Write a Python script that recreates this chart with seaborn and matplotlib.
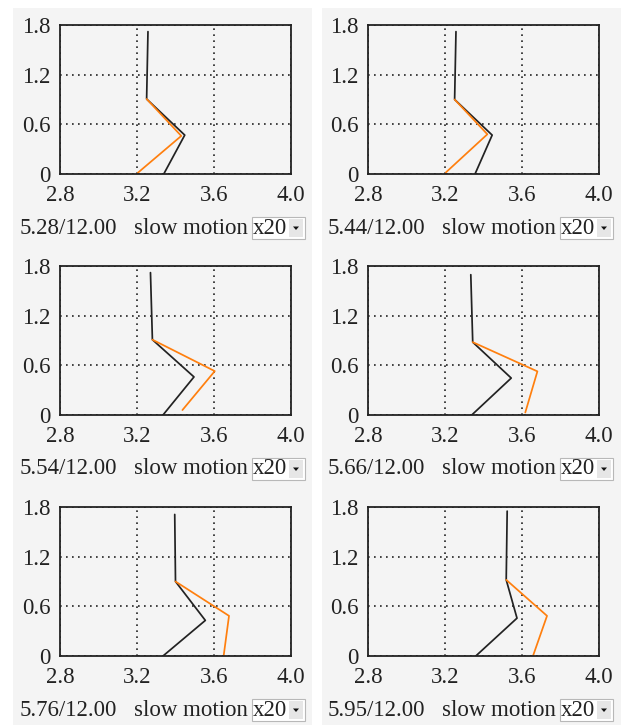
import pandas as pd
import matplotlib
matplotlib.use("Agg")
import matplotlib.pyplot as plt
from matplotlib.patches import Rectangle, Polygon
import seaborn as sns

# time stamps shown under each panel
times = ["5.28", "5.44", "5.54", "5.66", "5.76", "5.95"]
total_time = "12.00"
speed_label = "slow motion"
speed_choice = "x20"

# black figure: torso top, hip, knee, foot
black_x = [
    [3.257, 3.250, 3.448, 3.339],
    [3.257, 3.250, 3.445, 3.356],
    [3.270, 3.280, 3.496, 3.335],
    [3.334, 3.344, 3.544, 3.339],
    [3.396, 3.400, 3.555, 3.335],
    [3.523, 3.518, 3.574, 3.360],
]
black_y = [
    [1.72, 0.906, 0.470, 0.0],
    [1.72, 0.900, 0.470, 0.0],
    [1.72, 0.910, 0.460, 0.0],
    [1.695, 0.880, 0.446, 0.0],
    [1.71, 0.900, 0.430, 0.0],
    [1.75, 0.920, 0.457, 0.0],
]
# orange leg: hip, knee, foot
orange_x = [
    [3.250, 3.430, 3.205],
    [3.250, 3.420, 3.205],
    [3.280, 3.604, 3.436],
    [3.344, 3.680, 3.617],
    [3.400, 3.678, 3.650],
    [3.518, 3.730, 3.657],
]
orange_y = [
    [0.906, 0.460, 0.016],
    [0.900, 0.480, 0.020],
    [0.910, 0.530, 0.060],
    [0.880, 0.527, 0.030],
    [0.900, 0.485, 0.000],
    [0.920, 0.485, 0.000],
]

x_ticks = [2.8, 3.2, 3.6, 4.0]
x_tick_labels = ["2.8", "3.2", "3.6", "4.0"]
y_ticks = [0, 0.6, 1.2, 1.8]
y_tick_labels = ["0", "0.6", "1.2", "1.8"]

W, H = 629, 726
GREY = "#f4f4f4"
FS = 16.5

sns.set_theme(style="white")
plt.rcParams['font.family'] = ['Liberation Serif', 'DejaVu Serif']

fig = plt.figure(figsize=(W / 100, H / 100), dpi=100, facecolor="white")


def px_rect(x0, y0, x1, y1, **kw):
    """Rectangle in figure pixel coords (top-left origin)."""
    r = Rectangle((x0 / W, 1 - y1 / H), (x1 - x0) / W, (y1 - y0) / H,
                  transform=fig.transFigure, **kw)
    fig.patches.append(r)
    return r


# grey panel backgrounds, one per column (drawn under the axes)
for c in range(2):
    px_rect(13 + 309 * c, 8, 312 + 309 * c, 725, facecolor=GREY, edgecolor="none", zorder=-1)

for i in range(6):
    r, c = divmod(i, 2)
    left = 60 + 308 * c
    top = 25 + 241 * r
    ax = fig.add_axes([left / W, 1 - (top + 149) / H, 231 / W, 149 / H])
    ax.set_facecolor(GREY)

    sns.lineplot(x=black_x[i], y=black_y[i], sort=False, color="#222222",
                 linewidth=1.25, ax=ax)
    sns.lineplot(x=orange_x[i], y=orange_y[i], sort=False, color="#ff7f0e",
                 linewidth=1.25, ax=ax)

    ax.set_xlim(2.8, 4.0)
    ax.set_ylim(0, 1.8)
    ax.set_xticks(x_ticks)
    ax.set_xticklabels(x_tick_labels)
    ax.set_yticks(y_ticks)
    ax.set_yticklabels(y_tick_labels)
    ax.tick_params(length=0, labelsize=FS, colors="#222222")
    ax.tick_params(axis="x", pad=8)
    ax.tick_params(axis="y", pad=7)
    ax.grid(True, color="#222222", linestyle=(0, (1, 2.6)), linewidth=1.2)
    for s in ax.spines.values():
        s.set_color("#222222")
        s.set_linewidth(1.3)

    # caption line under the axes
    cy = top + 203
    x0 = 308 * c
    fig.text((20 + x0) / W, 1 - cy / H, f"{times[i]}/{total_time}",
             fontsize=FS, va="center", ha="left", color="#222222")
    fig.text((134 + x0) / W, 1 - cy / H, speed_label,
             fontsize=FS, va="center", ha="left", color="#222222")
    # dropdown box
    px_rect(252 + x0, cy - 11, 305 + x0, cy + 11, facecolor="white",
            edgecolor="#b8b8b8", linewidth=0.8, zorder=2)
    px_rect(289 + x0, cy - 9, 303 + x0, cy + 9, facecolor="#e6e6e6",
            edgecolor="none", zorder=3)
    tri = Polygon([((293 + x0) / W, 1 - (cy - 1.5) / H),
                   ((299 + x0) / W, 1 - (cy - 1.5) / H),
                   ((296 + x0) / W, 1 - (cy + 2) / H)],
                  closed=True, transform=fig.transFigure, facecolor="#111111",
                  edgecolor="none", zorder=4)
    fig.patches.append(tri)
    fig.text((253 + x0) / W, 1 - cy / H, speed_choice,
             fontsize=FS, va="center", ha="left", color="#222222", zorder=4)

fig.savefig("out.png", dpi=100, facecolor="white")
